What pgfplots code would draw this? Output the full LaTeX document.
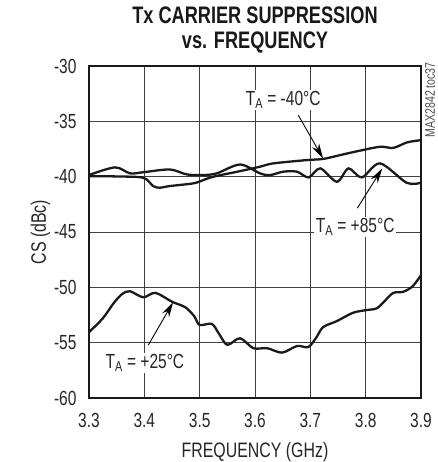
\documentclass[border=0pt]{standalone}
\usepackage{fontspec}
\setmainfont{Liberation Sans}[FakeStretch=0.76]
\usepackage{pgfplots}
\pgfplotsset{compat=1.18}
\usetikzlibrary{calc,arrows.meta}
\definecolor{crv}{HTML}{1A1A1A}
\begin{document}
\begin{tikzpicture}
\begin{axis}[name=ax,
  scale only axis, width=332bp, height=332bp,
  xmin=3.3, xmax=3.9, ymin=-60, ymax=-30,
  xtick={3.3,3.4,...,3.9}, ytick={-60,-55,...,-30},
  xticklabels={3.3,3.4,3.5,3.6,3.7,3.8,3.9},
  yticklabels={-60,-55,-50,-45,-40,-35,-30},
  grid=major,
  major grid style={line width=0.9pt, black!75},
  axis line style={line width=2.4pt, black!90},
  tick style={draw=none},
  /pgf/number format/assume math mode=true,
  ticklabel style={font=\fontsize{20.5}{20.5}\selectfont, text=black!85},
  xticklabel style={yshift=-12bp},
  yticklabel style={xshift=-9bp},
  xlabel={FREQUENCY (GHz)},
  ylabel={CS (dBc)},
  label style={font=\fontsize{21}{21}\selectfont, text=black!85},
  xlabel style={yshift=-8bp},
  ylabel style={yshift=-3bp},
  clip=false,
]
% T_A = -40 C
\addplot[crv, line width=2.3bp, smooth, tension=0.5] coordinates {
(3.302,-39.95) (3.350,-39.98) (3.398,-40.1) (3.416,-40.85) (3.428,-41.0)
(3.446,-40.85) (3.489,-40.6) (3.507,-40.3) (3.525,-40.0) (3.573,-39.5)
(3.609,-39.1) (3.633,-38.8) (3.694,-38.5) (3.723,-38.4) (3.754,-38.05)
(3.785,-37.7) (3.826,-37.3) (3.850,-37.4) (3.875,-36.9) (3.900,-36.7)
};
% T_A = +85 C
\addplot[crv, line width=2.3bp, smooth, tension=0.5] coordinates {
(3.300,-39.85) (3.347,-39.16) (3.374,-39.7) (3.398,-39.6) (3.446,-39.35)
(3.477,-39.8) (3.507,-39.85) (3.531,-39.7) (3.573,-38.9) (3.609,-39.7)
(3.627,-39.86) (3.651,-39.55) (3.676,-39.55) (3.697,-40.07) (3.718,-39.25)
(3.748,-40.46) (3.769,-39.25) (3.793,-40.07) (3.826,-38.8) (3.874,-40.55)
(3.900,-40.55)
};
% T_A = +25 C
\addplot[crv, line width=2.3bp, smooth, tension=0.5] coordinates {
(3.300,-54.05) (3.325,-52.8) (3.345,-51.4) (3.360,-50.6) (3.374,-50.35)
(3.398,-50.9) (3.420,-50.5) (3.450,-51.3) (3.474,-51.8) (3.490,-52.6)
(3.500,-53.4) (3.522,-53.3) (3.535,-54.2) (3.550,-55.2) (3.573,-54.6)
(3.597,-55.5) (3.622,-55.5) (3.649,-55.9) (3.676,-55.3) (3.696,-55.4)
(3.710,-54.6) (3.723,-53.6) (3.748,-53.05) (3.777,-52.3) (3.802,-52.05)
(3.820,-51.9) (3.835,-51.2) (3.850,-50.5) (3.868,-50.4) (3.885,-49.9)
(3.900,-48.9)
};
% annotations
\node[fill=white, inner sep=1.5bp, font=\fontsize{20.5}{20.5}\selectfont, text=black!85]
  at (axis cs:3.651,-33.07) {T\textsubscript{A} = -40°C};
\draw[line width=0.9pt, -{Stealth[length=15bp,width=8bp]}] (axis cs:3.678,-34.43) -- (axis cs:3.723,-38.35);
\node[fill=white, inner sep=1.5bp, font=\fontsize{20.5}{20.5}\selectfont, text=black!85]
  at (axis cs:3.781,-44.56) {T\textsubscript{A} = +85°C};
\draw[line width=0.9pt, -{Stealth[length=15bp,width=8bp]}] (axis cs:3.785,-42.84) -- (axis cs:3.830,-39.25);
\node[fill=white, inner sep=1.5bp, font=\fontsize{20.5}{20.5}\selectfont, text=black!85]
  at (axis cs:3.401,-56.85) {T\textsubscript{A} = +25°C};
\draw[line width=0.9pt, -{Stealth[length=15bp,width=8bp]}] (axis cs:3.407,-55.23) -- (axis cs:3.452,-51.34);
\end{axis}
\node[rotate=90, anchor=north east, inner sep=0pt, font=\fontsize{14}{14}\selectfont, text=black!70]
  at ($(ax.north east)+(4bp,4bp)$) {MAX2842 toc37};
\node[font=\bfseries\fontsize{24}{25}\selectfont, align=center, anchor=north, text=black!90]
  at ($(ax.north)+(0,63bp)$) {Tx CARRIER SUPPRESSION\\vs. FREQUENCY};
\pgfresetboundingbox
\path[use as bounding box] ($(ax.south west)+(-89bp,-64bp)$) rectangle ($(ax.north east)+(17bp,66bp)$);
\end{tikzpicture}
\end{document}
